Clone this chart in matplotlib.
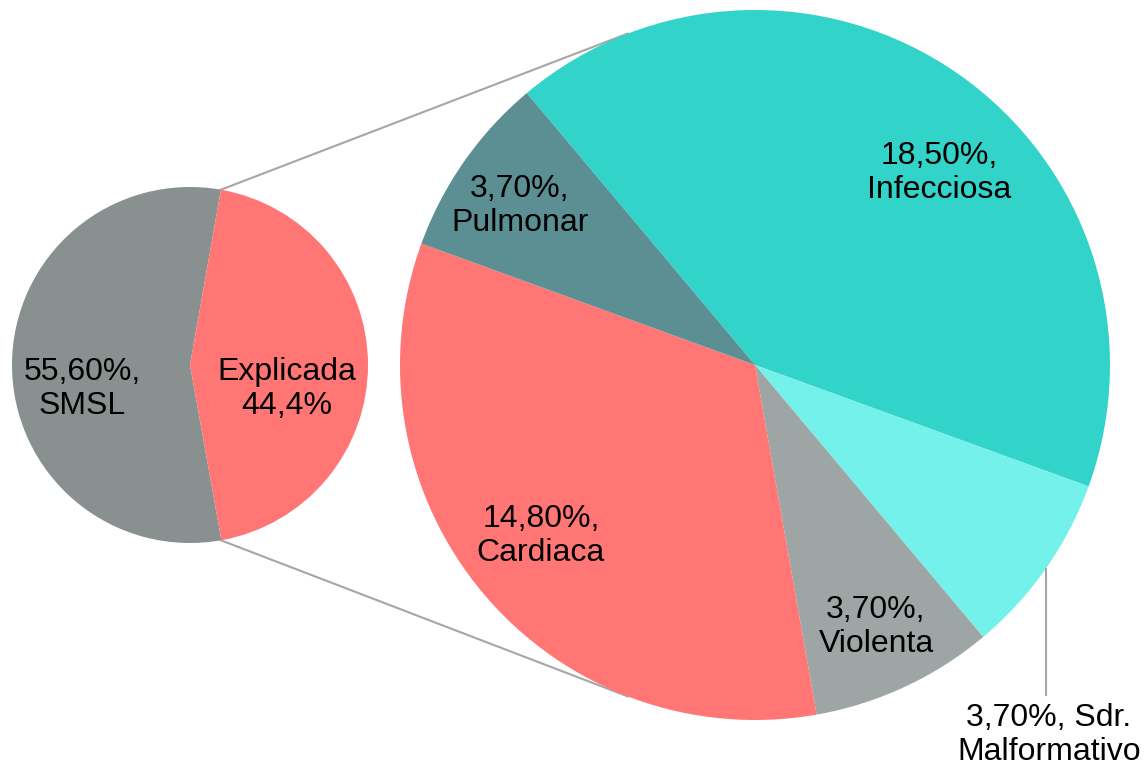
import numpy as np
import matplotlib
matplotlib.use("Agg")
import matplotlib.pyplot as plt

# ---- data ----
main_labels = ["55,60%,\nSMSL", "Explicada\n44,4%"]
main_values = [55.6, 44.4]
main_colors = ["#899090", "#FF7675"]

sub_names = ["Infecciosa", "Sdr. Malformativo", "Violenta", "Cardiaca", "Pulmonar"]
sub_values = [18.5, 3.7, 3.7, 14.8, 3.7]
sub_labels = ["18,50%,\nInfecciosa", "3,70%, Sdr.\nMalformativo", "3,70%,\nViolenta",
              "14,80%,\nCardiaca", "3,70%,\nPulmonar"]
sub_colors = ["#32D3C8", "#74F1EA", "#9EA6A5", "#FF7675", "#5B8F94"]

W, H = 1147, 767
plt.rcParams['font.family'] = ['Liberation Sans', 'DejaVu Sans']
fig = plt.figure(figsize=(W / 100, H / 100), dpi=100)
ax = fig.add_axes([0, 0, 1, 1])

# layout (pixel coords, y down converted)
c1 = (190, H - 365); r1 = 178
c2 = (755, H - 365); r2 = 355
FS = 23

# connector lines (behind pies)
for sgn in (1, -1):
    a1 = np.deg2rad(80 * sgn)
    a2 = np.deg2rad(111 * sgn)
    p1 = (c1[0] + r1 * np.cos(a1), c1[1] + r1 * np.sin(a1))
    p2 = (c2[0] + r2 * np.cos(a2), c2[1] + r2 * np.sin(a2))
    ax.plot([p1[0], p2[0]], [p1[1], p2[1]], color="#A6A6A6", lw=1.5, zorder=0)

w1, _ = ax.pie(main_values, colors=main_colors, startangle=80, counterclock=True,
               center=c1, radius=r1, frame=True,
               wedgeprops=dict(linewidth=0, edgecolor='none'))
w2, _ = ax.pie(sub_values, colors=sub_colors, startangle=130, counterclock=False,
               center=c2, radius=r2, frame=True,
               wedgeprops=dict(linewidth=0, edgecolor='none'))
ax.set_xlim(0, W)
ax.set_ylim(0, H)
ax.set_aspect('equal')
ax.axis('off')

# label positions (pixel coords)
main_pos = [(82, 389), (287, 389)]
sub_pos = [(939, 173), (1049, 735), (876, 627), (541, 536), (520, 206)]

for lab, (x, y) in zip(main_labels, main_pos):
    ax.text(x, H - y, lab, ha='center', va='center', fontsize=FS, linespacing=1.2)
for lab, (x, y) in zip(sub_labels, sub_pos):
    ax.text(x, H - y, lab, ha='center', va='center', fontsize=FS, linespacing=1.2)

# leader line for Malformativo
ax.plot([1046, 1046], [H - 569, H - 695], color="#A6A6A6", lw=1.5)

fig.savefig("out.png", dpi=100)
